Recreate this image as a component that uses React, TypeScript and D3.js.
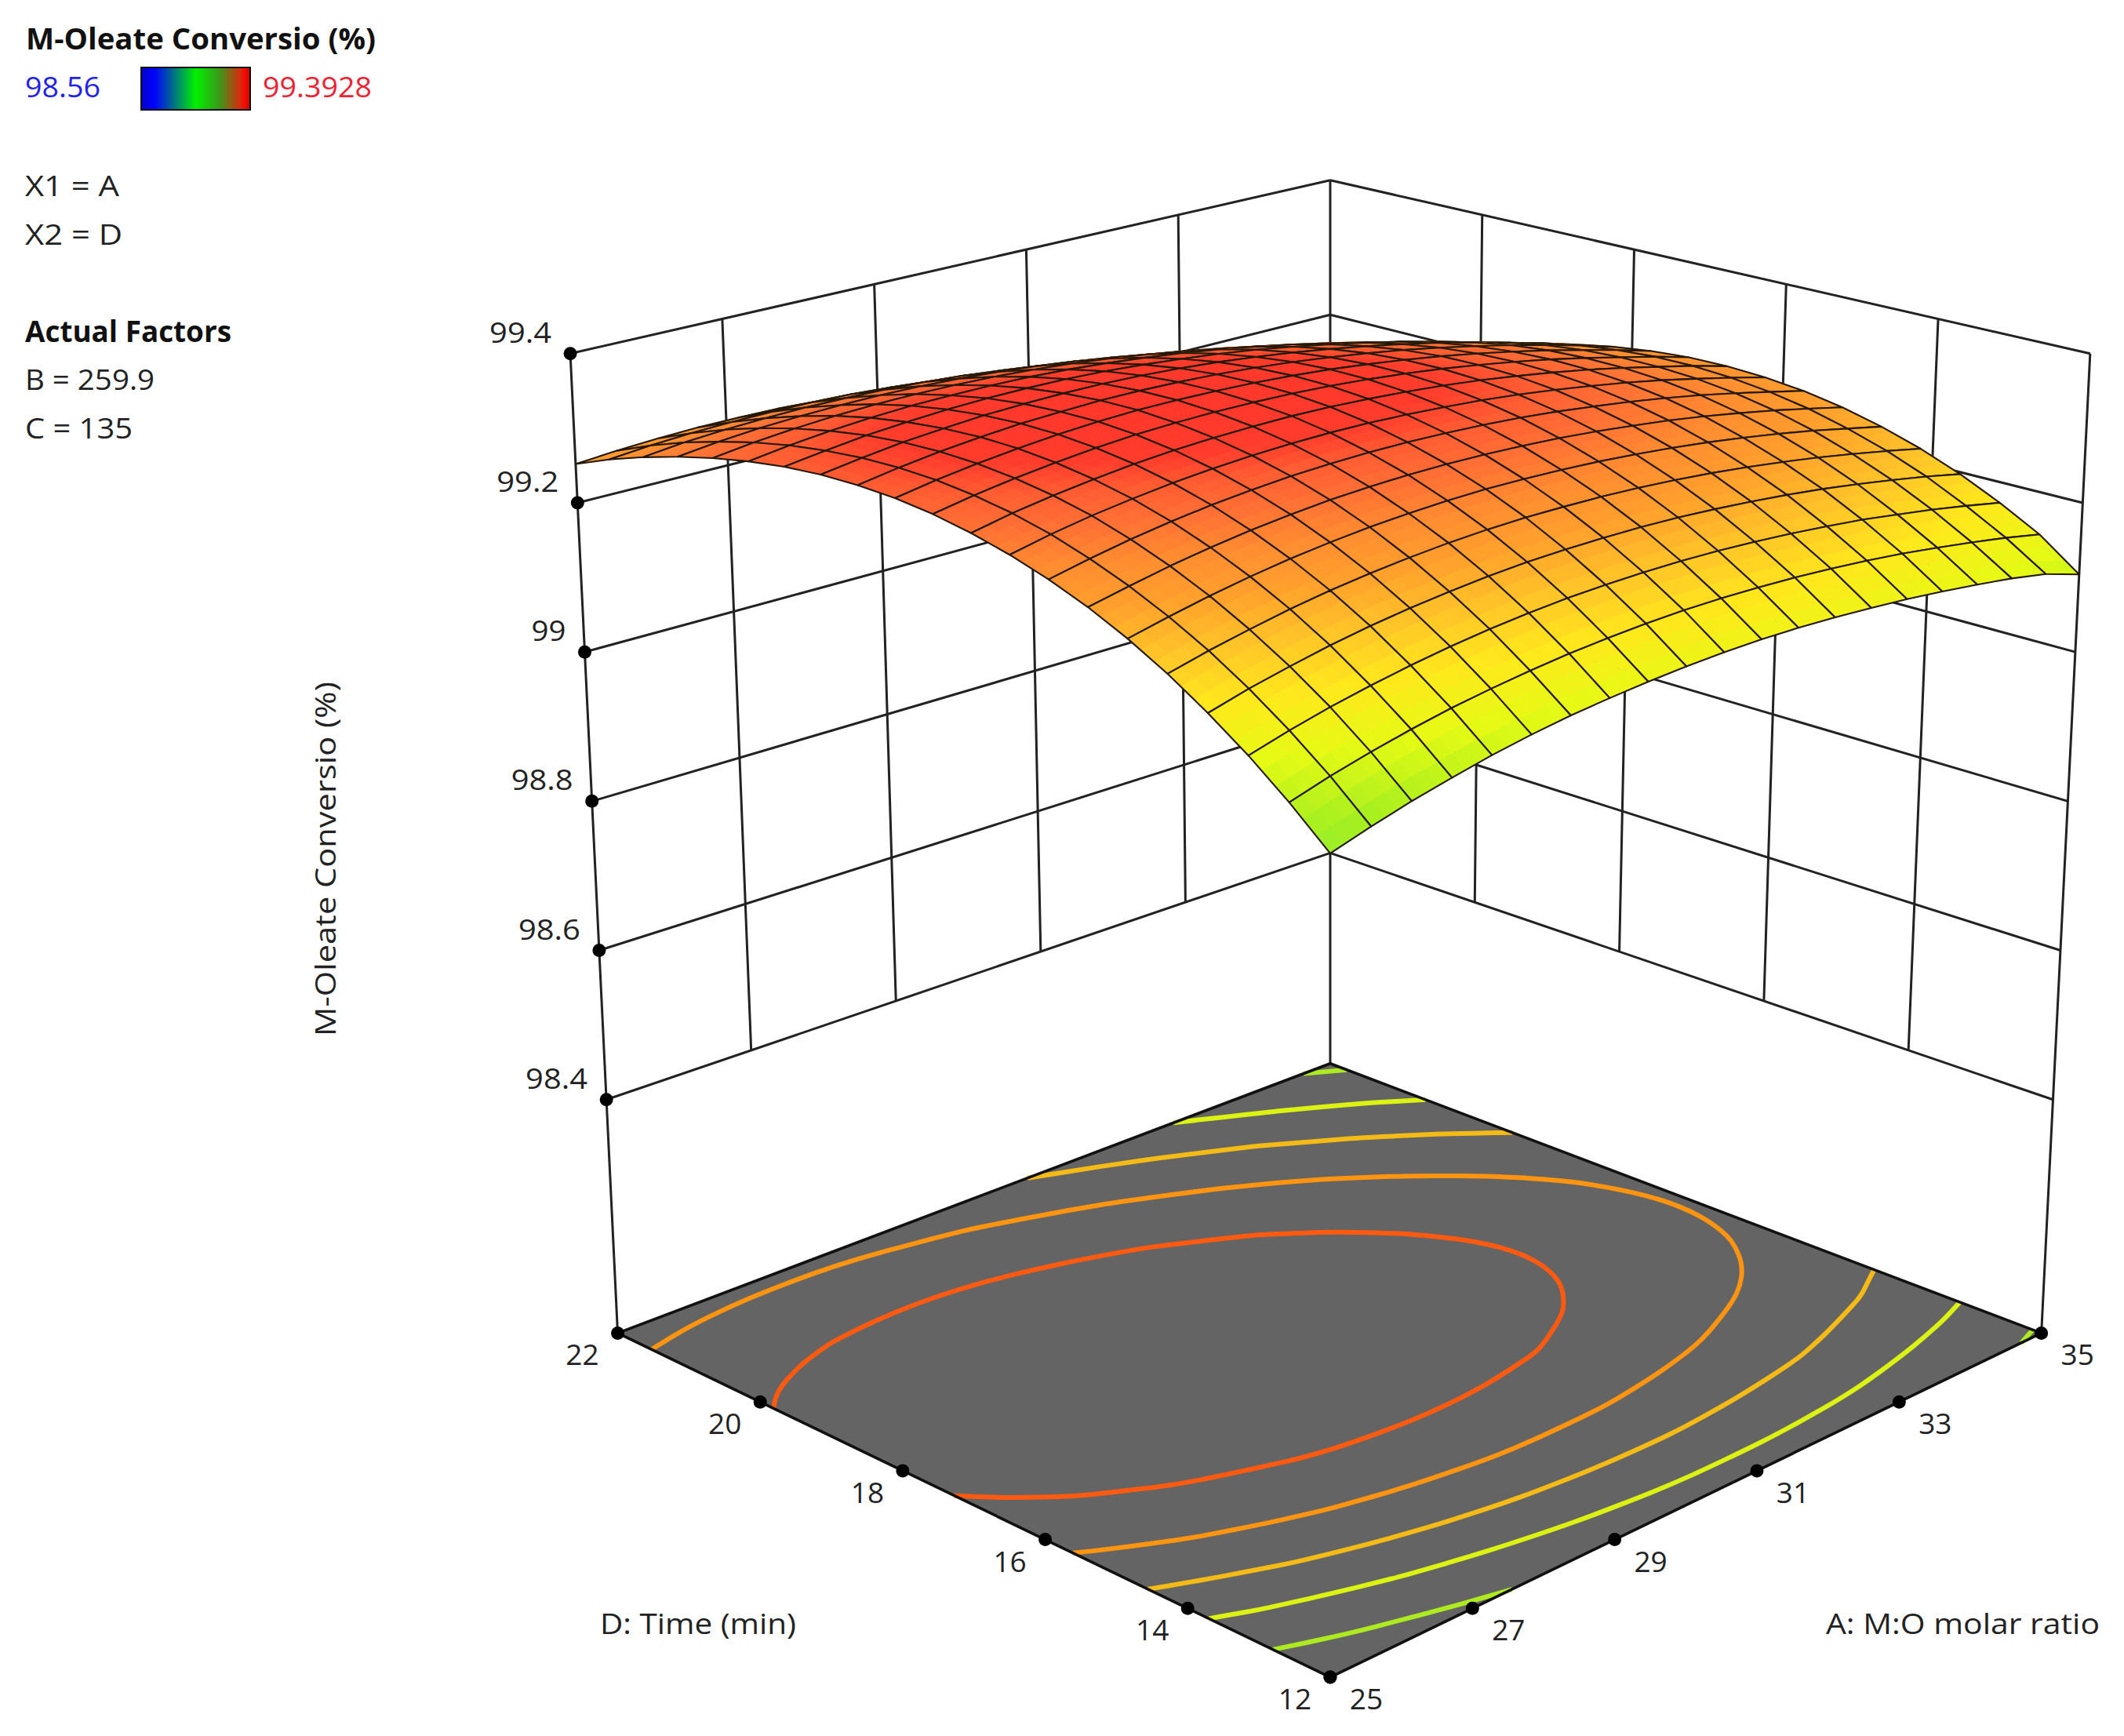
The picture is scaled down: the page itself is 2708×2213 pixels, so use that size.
import React, { useEffect, useRef } from "react";
import * as d3 from "d3";

const W = 2708;
const H = 2213;
const S = W / 1568;
const FONT = "'Open Sans', 'Noto Sans', sans-serif";

const ratioTicks = [25, 27, 29, 31, 33, 35];
const timeTicks = [12, 14, 16, 18, 20, 22];
const zTicks = [98.4, 98.6, 98.8, 99, 99.2, 99.4];
const zFloor = 98.087;
const contourLevels = [99.113, 99.175, 99.225, 99.272, 99.318];
const contourColors = ["#aeea20", "#dcf212", "#f4ba16", "#ff9410", "#ff5a10"];

const colorStops = [98.56, 98.976, 99.05, 99.077, 99.13, 99.177, 99.218, 99.255, 99.285, 99.31, 99.329, 99.343, 99.3928];
const colorRange = ["#0000ff", "#00ff00", "#98ee28", "#aaf01e", "#e6fa14", "#ffe81c", "#ffc428", "#ffa02c", "#ff8c30", "#ff7034", "#ff5c32", "#ff3c2c", "#ff2e28"];

// one row per time step (12 to 22 by 0.5), columns run over the ratio (25 to 35 by 0.5)
const zRows = [
	[99.049, 99.064, 99.078, 99.09, 99.102, 99.112, 99.121, 99.128, 99.134, 99.139, 99.143, 99.146, 99.147, 99.147, 99.145, 99.143, 99.139, 99.134, 99.128, 99.12, 99.104],
	[99.09, 99.105, 99.118, 99.13, 99.141, 99.15, 99.158, 99.165, 99.171, 99.175, 99.179, 99.181, 99.181, 99.181, 99.179, 99.176, 99.172, 99.166, 99.159, 99.151, 99.141],
	[99.128, 99.142, 99.155, 99.166, 99.176, 99.185, 99.193, 99.199, 99.205, 99.208, 99.211, 99.212, 99.213, 99.211, 99.209, 99.205, 99.201, 99.194, 99.187, 99.178, 99.168],
	[99.162, 99.176, 99.188, 99.199, 99.209, 99.217, 99.224, 99.23, 99.235, 99.238, 99.24, 99.241, 99.241, 99.239, 99.236, 99.232, 99.227, 99.22, 99.212, 99.203, 99.192],
	[99.194, 99.207, 99.218, 99.229, 99.238, 99.246, 99.252, 99.258, 99.262, 99.265, 99.266, 99.266, 99.266, 99.263, 99.26, 99.255, 99.249, 99.242, 99.233, 99.224, 99.213],
	[99.222, 99.234, 99.245, 99.255, 99.264, 99.271, 99.277, 99.282, 99.285, 99.288, 99.289, 99.288, 99.287, 99.284, 99.28, 99.275, 99.268, 99.261, 99.252, 99.241, 99.23],
	[99.247, 99.258, 99.269, 99.278, 99.286, 99.293, 99.299, 99.303, 99.306, 99.308, 99.308, 99.307, 99.305, 99.302, 99.297, 99.292, 99.285, 99.276, 99.267, 99.256, 99.244],
	[99.268, 99.279, 99.289, 99.298, 99.306, 99.312, 99.317, 99.321, 99.323, 99.324, 99.324, 99.323, 99.32, 99.317, 99.311, 99.305, 99.298, 99.289, 99.279, 99.267, 99.255],
	[99.286, 99.297, 99.307, 99.315, 99.322, 99.327, 99.332, 99.335, 99.337, 99.338, 99.337, 99.335, 99.332, 99.328, 99.322, 99.315, 99.307, 99.298, 99.287, 99.275, 99.262],
	[99.301, 99.312, 99.321, 99.328, 99.335, 99.34, 99.344, 99.346, 99.348, 99.348, 99.347, 99.344, 99.341, 99.336, 99.33, 99.322, 99.314, 99.304, 99.292, 99.28, 99.266],
	[99.313, 99.323, 99.331, 99.338, 99.344, 99.349, 99.352, 99.354, 99.355, 99.355, 99.353, 99.35, 99.346, 99.341, 99.334, 99.326, 99.317, 99.306, 99.294, 99.282, 99.267],
	[99.322, 99.331, 99.339, 99.345, 99.351, 99.355, 99.358, 99.359, 99.359, 99.358, 99.356, 99.353, 99.348, 99.342, 99.335, 99.326, 99.317, 99.306, 99.293, 99.28, 99.265],
	[99.327, 99.336, 99.343, 99.349, 99.354, 99.357, 99.36, 99.361, 99.36, 99.359, 99.356, 99.352, 99.347, 99.34, 99.333, 99.324, 99.313, 99.302, 99.289, 99.275, 99.259],
	[99.329, 99.337, 99.344, 99.349, 99.354, 99.356, 99.358, 99.359, 99.358, 99.356, 99.353, 99.348, 99.342, 99.335, 99.327, 99.317, 99.307, 99.295, 99.281, 99.267, 99.251],
	[99.328, 99.335, 99.342, 99.346, 99.35, 99.353, 99.354, 99.354, 99.353, 99.35, 99.346, 99.341, 99.335, 99.327, 99.318, 99.308, 99.297, 99.284, 99.27, 99.255, 99.239],
	[99.323, 99.33, 99.336, 99.34, 99.344, 99.345, 99.346, 99.346, 99.344, 99.341, 99.336, 99.331, 99.324, 99.316, 99.306, 99.296, 99.284, 99.27, 99.256, 99.24, 99.223],
	[99.315, 99.322, 99.327, 99.331, 99.334, 99.335, 99.335, 99.334, 99.332, 99.328, 99.323, 99.317, 99.309, 99.301, 99.291, 99.28, 99.267, 99.253, 99.238, 99.222, 99.205],
	[99.304, 99.31, 99.315, 99.318, 99.32, 99.321, 99.321, 99.319, 99.316, 99.312, 99.307, 99.3, 99.292, 99.283, 99.272, 99.261, 99.248, 99.233, 99.218, 99.201, 99.183],
	[99.29, 99.296, 99.3, 99.302, 99.304, 99.304, 99.303, 99.301, 99.298, 99.293, 99.287, 99.28, 99.271, 99.261, 99.25, 99.238, 99.225, 99.21, 99.194, 99.177, 99.158],
	[99.273, 99.278, 99.281, 99.283, 99.284, 99.284, 99.283, 99.28, 99.276, 99.271, 99.264, 99.256, 99.247, 99.237, 99.225, 99.213, 99.199, 99.183, 99.167, 99.149, 99.13],
	[99.252, 99.256, 99.259, 99.261, 99.261, 99.261, 99.259, 99.255, 99.251, 99.245, 99.238, 99.23, 99.22, 99.209, 99.197, 99.184, 99.169, 99.153, 99.136, 99.118, 99.098],
];

const leftNotes = [
	{ text: "X1 = A", y: 250, w: 120 },
	{ text: "X2 = D", y: 312, w: 124 },
	{ text: "B = 259.9", y: 497, w: 165 },
	{ text: "C = 135", y: 559, w: 137 },
];

// corners of the plot box in the shrunk picture, floor then top
const floorCorners = { f: [982, 1238], r: [1507, 984], l: [456, 984], b: [982, 785] };
const topCorners = { f: [982, 408], r: [1543, 261], l: [421, 261], b: [982, 133] };

const bilinear = (c, u, v) =>
	[0, 1].map(
		(k) =>
			c.f[k] * (1 - u) * (1 - v) + c.r[k] * u * (1 - v) + c.l[k] * (1 - u) * v + c.b[k] * u * v
	);

const uScale = d3.scaleLinear().domain([25, 35]).range([0, 1]);
const vScale = d3.scaleLinear().domain([12, 22]).range([0, 1]);
const tScale = d3.scaleLinear().domain([zFloor, 99.4]).range([0, 1]);
const colorScale = d3.scaleLinear().domain(colorStops).range(colorRange).clamp(true);

const project = (u, v, t) => {
	const a = bilinear(floorCorners, u, v);
	const b = bilinear(topCorners, u, v);
	return [(a[0] + (b[0] - a[0]) * t) * S, (a[1] + (b[1] - a[1]) * t) * S];
};

// the mesh lines close up towards the back of the plot
const meshAt = (s) => s + 0.1 * s * (1 - s);

const line = d3.line();

const App = () => {
	const svgRef = useRef();

	useEffect(() => {
		const svg = d3.select(svgRef.current);
		svg.selectAll("*").remove();

		const defs = svg.append("defs");
		const grad = defs.append("linearGradient").attr("id", "legendBar");
		[
			[0, "#0404c8"],
			[0.12, "#0000ff"],
			[0.5, "#00f000"],
			[0.72, "#3c9818"],
			[0.9, "#d03010"],
			[0.96, "#ff0000"],
			[1, "#a01808"],
		].forEach(([o, c]) => grad.append("stop").attr("offset", o).attr("stop-color", c));

		const text = (str, x, y, opts = {}) =>
			svg
				.append("text")
				.attr("x", x)
				.attr("y", y)
				.attr("font-family", FONT)
				.attr("font-size", opts.size || 37)
				.attr("font-weight", opts.weight || 400)
				.attr("fill", opts.fill || "#222")
				.attr("text-anchor", opts.anchor || "start")
				.attr("textLength", opts.w || null)
				.attr("lengthAdjust", opts.w ? "spacingAndGlyphs" : null)
				.attr("transform", opts.transform || null)
				.text(str);

		// legend block
		text("M-Oleate Conversio (%)", 33, 63, { weight: 700, fill: "#111", w: 446 });
		text("98.56", 32, 124, { fill: "#2222ee", w: 96 });
		text("99.3928", 335, 124, { fill: "#ee2233", w: 139 });
		svg
			.append("rect")
			.attr("x", 180)
			.attr("y", 86)
			.attr("width", 139)
			.attr("height", 54)
			.attr("fill", "url(#legendBar)")
			.attr("stroke", "#111")
			.attr("stroke-width", 2);
		leftNotes.forEach((d) => text(d.text, 32, d.y, { w: d.w }));
		text("Actual Factors", 32, 436, { weight: 700, fill: "#111", w: 263 });

		// walls
		const walls = svg
			.append("g")
			.attr("fill", "none")
			.attr("stroke", "#222")
			.attr("stroke-width", 3);
		const wallLine = (a, b) => walls.append("path").attr("d", line([a, b]));
		const tLow = tScale(zTicks[0]);
		zTicks.forEach((z) => {
			const t = tScale(z);
			wallLine(project(0, 1, t), project(1, 1, t));
			wallLine(project(1, 1, t), project(1, 0, t));
		});
		ratioTicks.slice(1, -1).forEach((a) => {
			const u = uScale(a);
			wallLine(project(u, 1, tLow), project(u, 1, 1));
		});
		timeTicks.slice(1, -1).forEach((d) => {
			const v = vScale(d);
			wallLine(project(1, v, tLow), project(1, v, 1));
		});
		wallLine(project(0, 1, 0), project(0, 1, 1));
		wallLine(project(1, 0, 0), project(1, 0, 1));
		wallLine(project(1, 1, 0), project(1, 1, 1));

		// floor
		const floorPts = [project(0, 0, 0), project(1, 0, 0), project(1, 1, 0), project(0, 1, 0)];
		svg
			.append("path")
			.attr("d", line(floorPts) + "Z")
			.attr("fill", "#646464");

		// floor contours, traced by d3 on the same grid as the surface
		const nx = zRows[0].length;
		const ny = zRows.length;
		const contourGen = d3.contours().size([nx, ny]).thresholds(contourLevels);
		const sameSide = (p, q) =>
			(p[0] <= 0.5 && q[0] <= 0.5) ||
			(p[0] >= nx - 0.5 && q[0] >= nx - 0.5) ||
			(p[1] <= 0.5 && q[1] <= 0.5) ||
			(p[1] >= ny - 0.5 && q[1] >= ny - 0.5);
		const toFloor = (p) =>
			project(
				Math.min(1, Math.max(0, (p[0] - 0.5) / (nx - 1))),
				Math.min(1, Math.max(0, (p[1] - 0.5) / (ny - 1))),
				0
			);
		contourGen(zRows.flat()).forEach((c) => {
			c.coordinates.forEach((poly) => {
				poly.forEach((ring) => {
					const pts = ring.slice(0, -1);
					const n = pts.length;
					let start = -1;
					for (let k = 0; k < n; k++) {
						if (sameSide(pts[k], pts[(k + 1) % n])) {
							start = (k + 1) % n;
							break;
						}
					}
					const closed = start < 0;
					if (closed) start = 0;
					let current = [];
					const pieces = [];
					for (let k = 0; k < n; k++) {
						const p = pts[(start + k) % n];
						const q = pts[(start + k + 1) % n];
						current.push(p);
						if (sameSide(p, q)) {
							if (current.length > 1) pieces.push(current);
							current = [];
						}
					}
					if (current.length > 1) pieces.push(current);
					pieces.forEach((piece) => {
						svg
							.append("path")
							.attr(
								"d",
								d3.line().curve(closed ? d3.curveBasisClosed : d3.curveBasis)(piece.map(toFloor))
							)
							.attr("fill", "none")
							.attr("stroke", contourColors[contourLevels.indexOf(c.value)])
							.attr("stroke-width", 6);
					});
				});
			});
		});

		// floor outline goes over the contour ends
		svg
			.append("path")
			.attr("d", line(floorPts) + "Z")
			.attr("fill", "none")
			.attr("stroke", "#111")
			.attr("stroke-width", 3.6)
			.attr("stroke-linejoin", "round");

		// surface, back cells first
		const surface = svg.append("g");
		const cells = [];
		for (let j = 0; j < ny - 1; j++) {
			for (let i = 0; i < nx - 1; i++) cells.push([i, j]);
		}
		cells.sort((a, b) => b[0] + b[1] - (a[0] + a[1]));
		const SUB = 3;
		// height at any spot, read between the four nearest table values
		const zRead = (u, v) => {
			const x = u * (nx - 1);
			const y = v * (ny - 1);
			const i = Math.min(nx - 2, Math.floor(x));
			const j = Math.min(ny - 2, Math.floor(y));
			const a = x - i;
			const b = y - j;
			return (
				zRows[j][i] * (1 - a) * (1 - b) +
				zRows[j][i + 1] * a * (1 - b) +
				zRows[j + 1][i] * (1 - a) * b +
				zRows[j + 1][i + 1] * a * b
			);
		};
		const nodeUV = (a, b) => [meshAt(a / (nx - 1)), meshAt(b / (ny - 1))];
		const node = (a, b) => {
			const [u, v] = nodeUV(a, b);
			return project(u, v, tScale(zRead(u, v)));
		};
		cells.forEach(([i, j]) => {
			for (let m = SUB - 1; m >= 0; m--) {
				for (let k = SUB - 1; k >= 0; k--) {
					const a0 = i + k / SUB;
					const a1 = i + (k + 1) / SUB;
					const b0 = j + m / SUB;
					const b1 = j + (m + 1) / SUB;
					const [cu, cv] = nodeUV((a0 + a1) / 2, (b0 + b1) / 2);
					const col = colorScale(zRead(cu, cv));
					surface
						.append("path")
						.attr("d", line([node(a0, b0), node(a1, b0), node(a1, b1), node(a0, b1)]) + "Z")
						.attr("fill", col)
						.attr("stroke", col)
						.attr("stroke-width", 0.8);
				}
			}
			surface
				.append("path")
				.attr("d", line([node(i, j), node(i + 1, j), node(i + 1, j + 1), node(i, j + 1)]) + "Z")
				.attr("fill", "none")
				.attr("stroke", "#241808")
				.attr("stroke-width", 2.1)
				.attr("stroke-linejoin", "round");
		});

		// tick dots and labels
		const dot = (p) =>
			svg.append("circle").attr("cx", p[0]).attr("cy", p[1]).attr("r", 8.5).attr("fill", "#000");
		zTicks.forEach((z) => {
			const p = project(0, 1, tScale(z));
			dot(p);
			const label = String(z);
			text(label, p[0] - 24, p[1] - 14, { anchor: "end", w: label.length > 2 ? 79 : 44 });
		});
		timeTicks.forEach((d) => {
			const p = project(0, vScale(d), 0);
			dot(p);
			text(String(d), p[0] - 45, p[1] + 41, { anchor: "middle" });
		});
		ratioTicks.forEach((a) => {
			const p = project(uScale(a), 0, 0);
			dot(p);
			text(String(a), p[0] + 46, p[1] + 41, { anchor: "middle" });
		});

		// axis titles
		text("D: Time (min)", 765, 2083, { w: 250 });
		text("A: M:O molar ratio", 2328, 2083, { w: 349 });
		text("M-Oleate Conversio (%)", 0, 0, {
			anchor: "middle",
			w: 452,
			transform: `translate(428,1095) rotate(-90)`,
		});
	}, []);

	return (
		<svg
			ref={svgRef}
			width={W}
			height={H}
			style={{ position: "absolute", left: 0, top: 0, background: "#fff" }}
		/>
	);
};

export default App;
